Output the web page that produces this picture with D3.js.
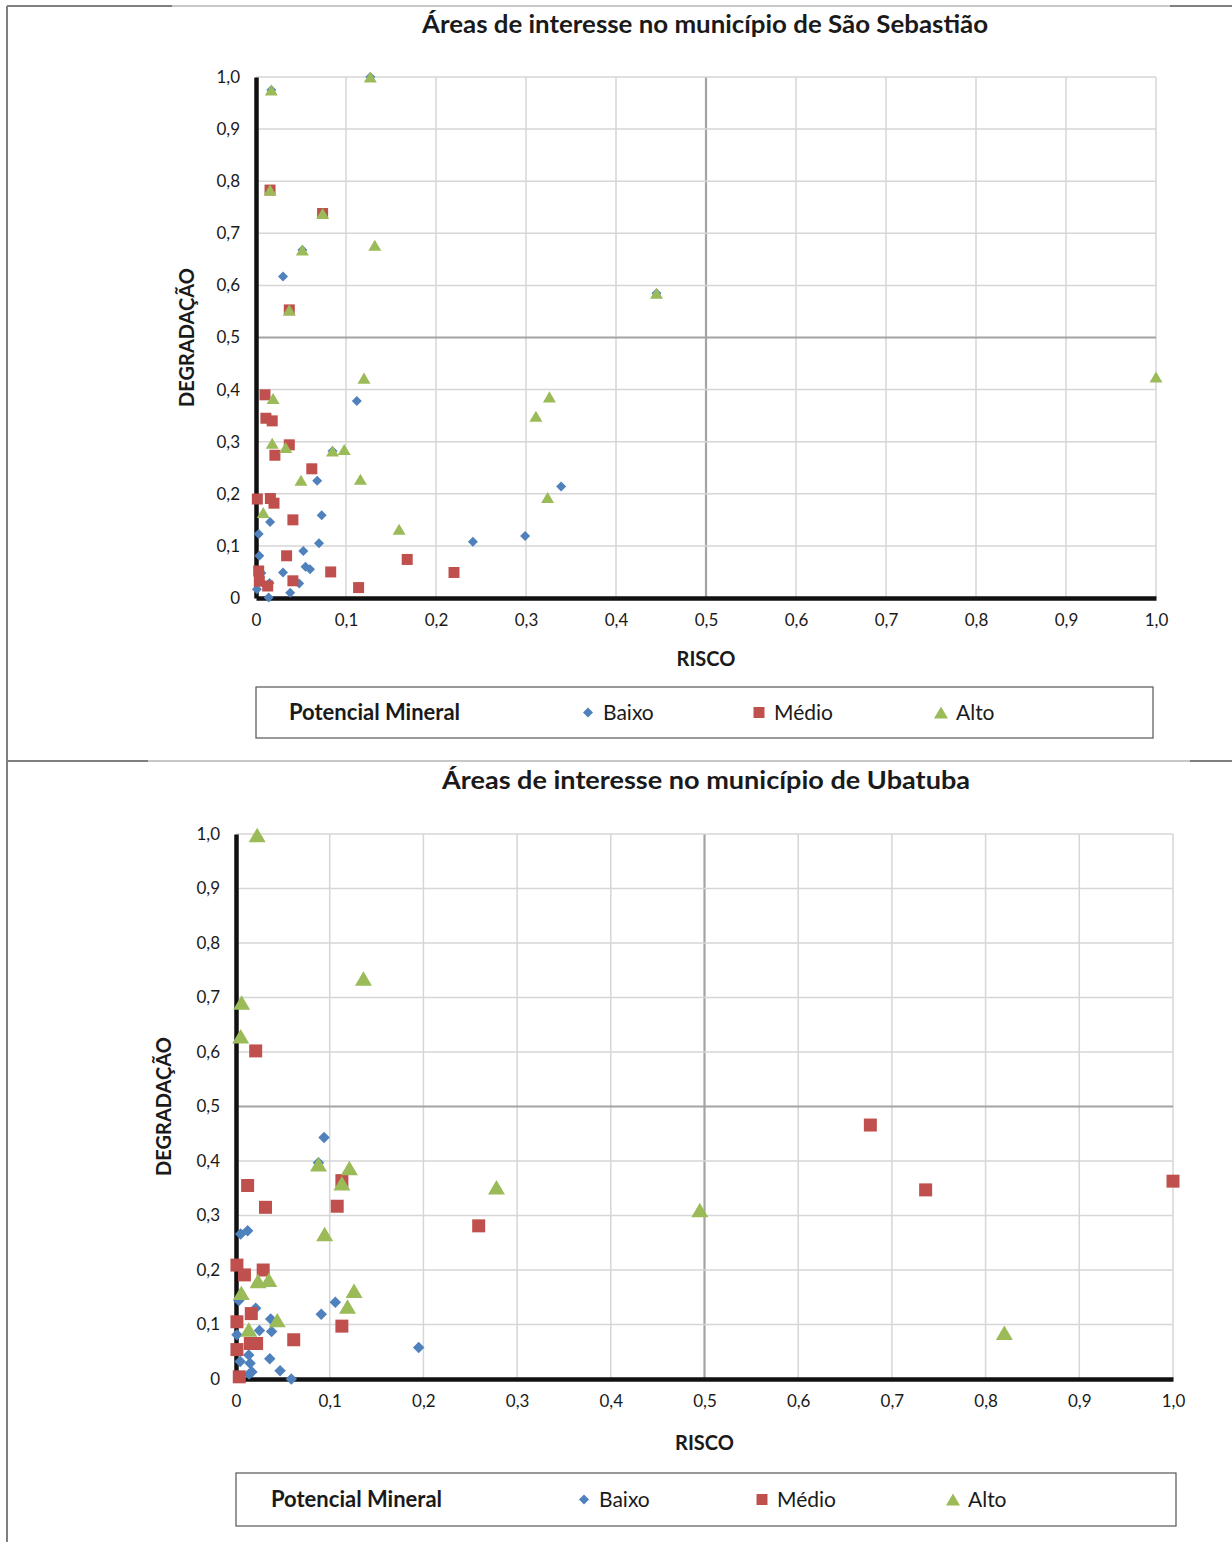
<!DOCTYPE html>
<html>
<head>
<meta charset="utf-8">
<script src="https://cdn.jsdelivr.net/npm/d3@7"></script>
<style>
  body { margin: 0; background: #fff; }
  text { font-family: Lato, "Open Sans", sans-serif; fill: #1a1a1a; }
</style>
</head>
<body>
<div id="chart"></div>
<script>
// São Sebastião  [risco, degradação]
var ssBaixo = [[0.017,0.975],[0.127,1.0],[0.0515,0.668],[0.030,0.617],[0.445,0.585],[0.112,0.378],
  [0.085,0.282],[0.068,0.225],[0.0156,0.146],[0.073,0.159],[0.003,0.123],[0.070,0.105],[0.0526,0.090],
  [0.0037,0.081],[0.055,0.060],[0.060,0.055],[0.030,0.049],[0.048,0.028],[0.015,0.029],[0.001,0.017],
  [0.038,0.010],[0.014,0.001],[0.339,0.214],[0.299,0.119],[0.241,0.108],[0.006,0.048]];
var ssMedio = [[0.0156,0.783],[0.074,0.738],[0.037,0.553],[0.010,0.390],[0.011,0.345],[0.018,0.340],
  [0.037,0.294],[0.021,0.274],[0.062,0.248],[0.0015,0.190],[0.016,0.191],[0.020,0.182],[0.041,0.150],
  [0.034,0.081],[0.168,0.074],[0.003,0.052],[0.083,0.050],[0.0037,0.032],[0.041,0.033],[0.013,0.023],
  [0.114,0.020],[0.220,0.049]];
var ssAlto = [[0.017,0.975],[0.127,1.0],[0.0156,0.783],[0.074,0.738],[0.0515,0.668],[0.132,0.677],
  [0.037,0.553],[0.445,0.585],[1.0,0.424],[0.120,0.422],[0.019,0.383],[0.018,0.297],[0.033,0.289],
  [0.085,0.282],[0.098,0.285],[0.050,0.226],[0.116,0.228],[0.008,0.164],[0.159,0.132],[0.326,0.386],
  [0.311,0.349],[0.324,0.193]];

// Ubatuba
var ubBaixo = [[0.094,0.443],[0.088,0.397],[0.005,0.266],[0.0124,0.272],[0.003,0.144],[0.106,0.141],
  [0.021,0.130],[0.091,0.119],[0.037,0.110],[0.025,0.089],[0.038,0.087],[0.001,0.081],[0.195,0.058],
  [0.0136,0.044],[0.036,0.037],[0.0045,0.032],[0.015,0.029],[0.047,0.015],[0.017,0.013],[0.014,0.009],
  [0.059,0.0]];
var ubMedio = [[0.021,0.602],[0.113,0.364],[0.0124,0.355],[0.0315,0.315],[0.108,0.317],[0.001,0.209],
  [0.029,0.200],[0.009,0.191],[0.0163,0.120],[0.001,0.105],[0.113,0.097],[0.0616,0.072],[0.0153,0.065],
  [0.022,0.065],[0.001,0.054],[0.0035,0.004],[0.677,0.466],[0.736,0.347],[1.0,0.363],[0.259,0.281]];
var ubAlto = [[0.0226,0.998],[0.136,0.735],[0.006,0.691],[0.005,0.629],[0.088,0.394],[0.121,0.387],
  [0.113,0.359],[0.0946,0.266],[0.0235,0.180],[0.035,0.182],[0.0057,0.158],[0.126,0.162],[0.119,0.133],
  [0.044,0.108],[0.0136,0.091],[0.278,0.352],[0.495,0.310],[0.820,0.085]];

var ticks = [0,0.1,0.2,0.3,0.4,0.5,0.6,0.7,0.8,0.9,1.0];
var seriesNames = ["Baixo","Médio","Alto"];
var legendTitle = "Potencial Mineral";

var colors = { Baixo: "#4f81bd", "Médio": "#c0504d", Alto: "#9bbb59" };

var svg = d3.select("#chart").append("svg")
  .attr("width", 1232).attr("height", 1542);

// page frame lines
svg.append("line").attr("x1",7).attr("x2",7).attr("y1",6).attr("y2",1542)
  .attr("stroke","#7f7f7f").attr("stroke-width",2);
svg.append("line").attr("x1",7).attr("x2",1232).attr("y1",6).attr("y2",6)
  .attr("stroke","#b4b4b4").attr("stroke-width",1.5);
svg.append("line").attr("x1",7).attr("x2",172).attr("y1",6).attr("y2",6)
  .attr("stroke","#7f7f7f").attr("stroke-width",2);
svg.append("line").attr("x1",1170).attr("x2",1232).attr("y1",6).attr("y2",6)
  .attr("stroke","#7f7f7f").attr("stroke-width",2);
svg.append("line").attr("x1",7).attr("x2",1232).attr("y1",761).attr("y2",761)
  .attr("stroke","#b4b4b4").attr("stroke-width",1.5);
svg.append("line").attr("x1",7).attr("x2",148).attr("y1",761).attr("y2",761)
  .attr("stroke","#7f7f7f").attr("stroke-width",2);
svg.append("line").attr("x1",1190).attr("x2",1232).attr("y1",761).attr("y2",761)
  .attr("stroke","#7f7f7f").attr("stroke-width",2);

function markerPath(type, cx, cy, s) {
  var p = d3.path();
  if (type == "Baixo") {
    p.moveTo(cx, cy - s/2); p.lineTo(cx + s/2, cy); p.lineTo(cx, cy + s/2); p.lineTo(cx - s/2, cy);
  } else if (type == "Médio") {
    p.rect(cx - s/2, cy - s/2, s, s);
  } else {
    var h = s * 0.85;
    p.moveTo(cx, cy - h/2); p.lineTo(cx + s/2, cy + h/2); p.lineTo(cx - s/2, cy + h/2);
  }
  p.closePath();
  return p.toString();
}

function drawChart(c) {
  var g = svg.append("g");
  var x = d3.scaleLinear().domain([0,1]).range([c.left, c.right]);
  var y = d3.scaleLinear().domain([0,1]).range([c.bottom, c.top]);
  var fmt = function(d) { return d == 0 ? "0" : d3.format(".1f")(d).replace(".", ","); };

  // title
  g.append("text").attr("x", c.titleX).attr("y", c.titleY)
    .attr("text-anchor","middle").attr("font-size", 25).attr("font-weight","bold")
    .attr("textLength", c.titleLen).attr("lengthAdjust","spacingAndGlyphs")
    .text(c.title);

  // grid
  g.selectAll(".vg").data(ticks.slice(1)).enter().append("line")
    .attr("x1", d => x(d)).attr("x2", d => x(d)).attr("y1", y(0)).attr("y2", y(1))
    .attr("stroke", d => d == 0.5 ? "#a3a3a3" : "#d6d6d6")
    .attr("stroke-width", d => d == 0.5 ? 2.2 : 1.5);
  g.selectAll(".hg").data(ticks.slice(1)).enter().append("line")
    .attr("x1", x(0)).attr("x2", x(1)).attr("y1", d => y(d)).attr("y2", d => y(d))
    .attr("stroke", d => d == 0.5 ? "#a3a3a3" : "#d6d6d6")
    .attr("stroke-width", d => d == 0.5 ? 2.2 : 1.5);

  // axes
  var xAxis = g.append("g").attr("transform", "translate(0," + y(0) + ")")
    .call(d3.axisBottom(x).tickValues(ticks).tickFormat(fmt).tickSize(0).tickPadding(16));
  var yAxis = g.append("g").attr("transform", "translate(" + x(0) + ",0)")
    .call(d3.axisLeft(y).tickValues(ticks).tickFormat(fmt).tickSize(0).tickPadding(c.yPad));
  [xAxis, yAxis].forEach(function(a) {
    a.select(".domain").attr("stroke", "#111").attr("stroke-width", 4.5);
    a.selectAll("text").attr("font-size", 17).attr("fill", "#222")
      .attr("font-family", "Lato, 'Open Sans', sans-serif");
  });

  // axis titles
  g.append("text").attr("x", (c.left + c.right) / 2).attr("y", c.riscoY)
    .attr("text-anchor","middle").attr("font-size", 20).attr("font-weight","bold").text("RISCO");
  g.append("text").attr("transform", "translate(" + c.degX + "," + y(0.5) + ") rotate(-90)")
    .attr("text-anchor","middle").attr("font-size", 20).attr("font-weight","bold").text("DEGRADAÇÃO");

  // points
  seriesNames.forEach(function(name, i) {
    g.append("g").selectAll("path").data(c.series[i]).enter().append("path")
      .attr("d", d => markerPath(name, x(d[0]), y(d[1]), c.sizes[i]))
      .attr("fill", colors[name]);
  });

  // legend
  var lg = g.append("g");
  lg.append("rect").attr("x", c.leg[0]).attr("y", c.leg[1])
    .attr("width", c.leg[2] - c.leg[0]).attr("height", c.leg[3] - c.leg[1])
    .attr("fill","none").attr("stroke","#555").attr("stroke-width",1.2);
  var ly = (c.leg[1] + c.leg[3]) / 2;
  lg.append("text").attr("x", c.legText).attr("y", ly).attr("dy","0.35em")
    .attr("font-size", 22).attr("font-weight","bold").text(legendTitle);
  seriesNames.forEach(function(name, i) {
    var mx = c.legItems[i];
    lg.append("path").attr("d", markerPath(name, mx, ly, [10, 11, 14][i])).attr("fill", colors[name]);
    lg.append("text").attr("x", mx + 15).attr("y", ly).attr("dy","0.35em")
      .attr("font-size", 21).text(name);
  });
}

drawChart({
  title: "Áreas de interesse no município de São Sebastião",
  titleX: 705, titleY: 33, titleLen: 566,
  left: 256, right: 1156, top: 77, bottom: 598,
  yPad: 16, riscoY: 666, degX: 194,
  series: [ssBaixo, ssMedio, ssAlto], sizes: [10, 11, 13],
  leg: [256, 687, 1153, 738], legText: 289, legItems: [588, 759, 941]
});

drawChart({
  title: "Áreas de interesse no município de Ubatuba",
  titleX: 706, titleY: 789, titleLen: 528,
  left: 236, right: 1173, top: 834, bottom: 1379,
  yPad: 16, riscoY: 1450, degX: 171,
  series: [ubBaixo, ubMedio, ubAlto], sizes: [11.5, 13, 17],
  leg: [236, 1473, 1176, 1526], legText: 271, legItems: [584, 762, 953]
});
</script>
</body>
</html>
